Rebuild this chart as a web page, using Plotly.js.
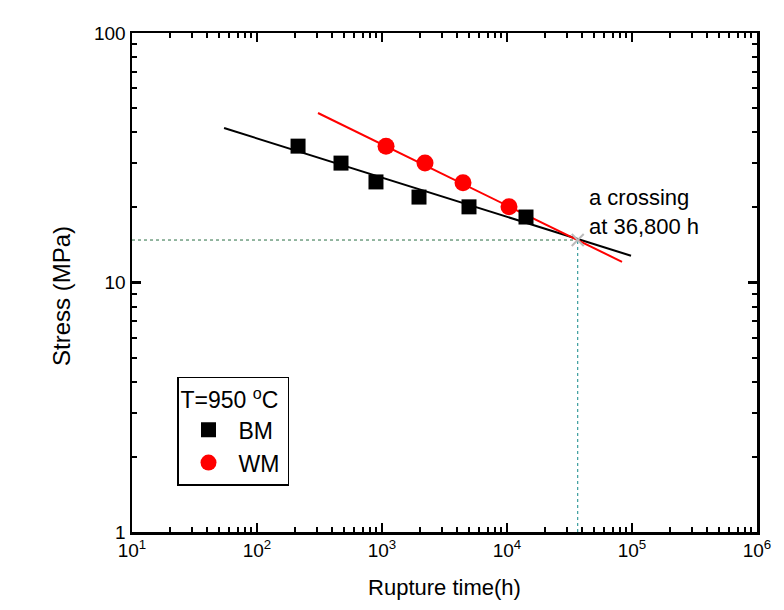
<!DOCTYPE html>
<html>
<head>
<meta charset="utf-8">
<script src="https://cdn.plot.ly/plotly-3.0.1.min.js"></script>
<style>html,body{margin:0;padding:0;background:#fff;}#chart{width:784px;height:610px;}</style>
</head>
<body>
<div id="chart"></div>
<script>
// Data
const bmTime = [213, 470, 895, 1977, 4966, 14190];
const bmStress = [35.2, 30.1, 25.3, 22.0, 20.1, 18.3];
const wmTime = [1077, 2208, 4446, 10380];
const wmStress = [35.2, 30.1, 25.1, 20.1];
const bmFitTime = [54.5, 98200];
const bmFitStress = [41.6, 12.8];
const wmFitTime = [307.6, 83200];
const wmFitStress = [47.8, 12.1];
const crossTime = [36800];
const crossStress = [14.8];
const xTickVals = [10, 100, 1000, 10000, 100000, 1000000];
const xTickText = ['10<sup>1</sup>', '10<sup>2</sup>', '10<sup>3</sup>', '10<sup>4</sup>', '10<sup>5</sup>', '10<sup>6</sup>'];
const yTickVals = [1, 10, 100];
const yTickText = ['1', '10', '100'];

const font = 'Liberation Sans, Arial, sans-serif';

const traces = [
  {x: bmFitTime, y: bmFitStress, mode: 'lines', line: {color: '#000', width: 2}, showlegend: false, hoverinfo: 'skip'},
  {x: wmFitTime, y: wmFitStress, mode: 'lines', line: {color: '#ff0000', width: 2}, showlegend: false, hoverinfo: 'skip'},
  {x: [10, crossTime[0]], y: [crossStress[0], crossStress[0]], mode: 'lines', line: {color: '#2a6e44', width: 1, dash: 'dot'}, showlegend: false},
  {x: [crossTime[0], crossTime[0]], y: [1, crossStress[0]], mode: 'lines', line: {color: '#138a8a', width: 1, dash: 'dot'}, showlegend: false},
  {x: bmTime, y: bmStress, mode: 'markers', name: 'BM', marker: {symbol: 'square', color: '#000', size: 15}},
  {x: wmTime, y: wmStress, mode: 'markers', name: 'WM', marker: {symbol: 'circle', color: '#ff0000', size: 17}},
  {x: crossTime, y: crossStress, mode: 'markers', marker: {symbol: 'x-thin', size: 12, line: {color: '#bbbbbb', width: 2}}, showlegend: false}
];

const axisCommon = {
  showline: true, linecolor: '#000', linewidth: 2.5, mirror: 'allticks',
  ticks: 'inside', ticklen: 9, tickwidth: 2.5, tickcolor: '#000',
  showgrid: false, zeroline: false,
  tickfont: {family: font, size: 19, color: '#000'}
};

const layout = {
  width: 784, height: 610,
  margin: {l: 132, r: 27, t: 33, b: 78},
  paper_bgcolor: '#fff', plot_bgcolor: '#fff',
  showlegend: true,
  xaxis: Object.assign({}, axisCommon, {
    type: 'log', range: [1, 6], tickmode: 'array', tickvals: xTickVals, ticktext: xTickText,
    minor: {ticks: 'inside', ticklen: 5, tickwidth: 2, tickcolor: '#000', dtick: 'D1'},
    title: {text: 'Rupture time(h)', font: {family: font, size: 22, color: '#000'}, standoff: 20}
  }),
  yaxis: Object.assign({}, axisCommon, {
    type: 'log', range: [0, 2], tickmode: 'array', tickvals: yTickVals, ticktext: yTickText,
    minor: {ticks: 'inside', ticklen: 5, tickwidth: 2, tickcolor: '#000', dtick: 'D1'}
  }),
  legend: {
    x: 0.072, y: 0.311, xanchor: 'left', yanchor: 'top',
    bordercolor: '#000', borderwidth: 1.5, bgcolor: '#fff',
    font: {family: font, size: 23, color: '#000'},
    title: {text: 'T=950 <sup>o</sup>C ', font: {family: font, size: 23, color: '#000'}},
    itemwidth: 50
  },
  annotations: [
    {
      xref: 'paper', yref: 'paper', x: 0.728, y: 0.641, xanchor: 'left', yanchor: 'middle',
      text: 'a crossing<br>at 36,800 h', showarrow: false, align: 'left',
      font: {family: font, size: 22, color: '#000'}
    },
    {
      xref: 'paper', yref: 'paper', x: -0.112, y: 0.473, xanchor: 'center', yanchor: 'middle',
      text: 'Stress (MPa)', textangle: -90, showarrow: false,
      font: {family: font, size: 24, color: '#000'}
    }
  ]
};

Plotly.newPlot('chart', traces, layout, {displayModeBar: false, staticPlot: true});
</script>
</body>
</html>
